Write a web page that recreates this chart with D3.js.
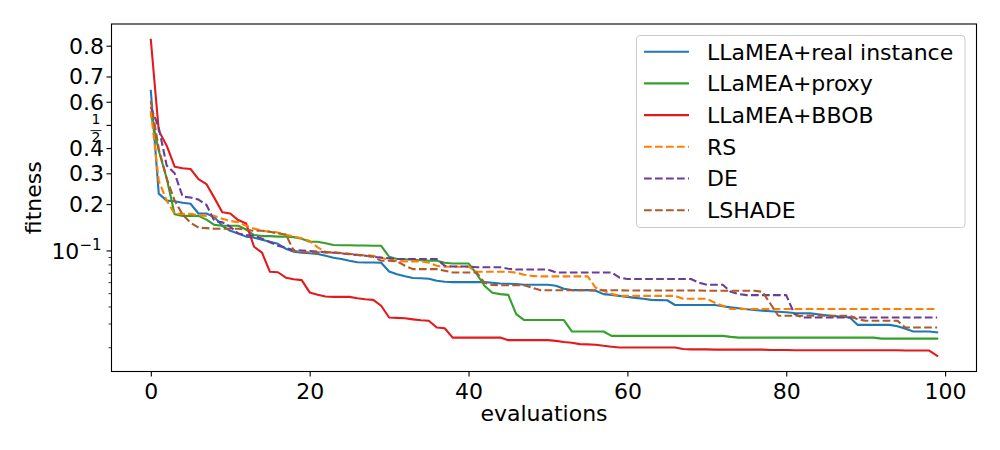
<!DOCTYPE html>
<html><head><meta charset="utf-8">
<script src="https://cdn.jsdelivr.net/npm/d3@7/dist/d3.min.js"></script>
<style>body{margin:0;background:#fff} svg{font-family:"DejaVu Sans",sans-serif}</style>
</head><body><svg id="c" width="1000" height="450"></svg>
<script>
const evaluations = d3.range(0, 100);
const seriesNames = ["LLaMEA+real instance","LLaMEA+proxy","LLaMEA+BBOB","RS","DE","LSHADE"];
const realInstance = [0.645,0.231,0.210,0.208,0.204,0.201,0.175,0.175,0.166,0.146,
 0.1355,0.130,0.124,0.122,0.118,0.1145,0.111,0.1027,0.098,0.0965,
 0.0957,0.0945,0.0919,0.0890,0.0872,0.0848,0.0829,0.0826,0.0826,0.0822,
 0.0714,0.0683,0.0661,0.0642,0.0640,0.0634,0.0613,0.0603,0.0600,0.0600,
 0.0600,0.0600,0.0600,0.0594,0.0587,0.0584,0.0581,0.0575,0.0575,0.0575,
 0.0575,0.0565,0.0538,0.0526,0.0526,0.0526,0.0520,0.0492,0.0486,0.0478,
 0.0470,0.0462,0.0455,0.0447,0.0445,0.0444,0.0410,0.0410,0.0410,0.0410,
 0.0410,0.0410,0.0402,0.0394,0.0388,0.0382,0.0377,0.0372,0.0369,0.0366,
 0.0363,0.0358,0.0357,0.0356,0.0351,0.0345,0.0340,0.0336,0.0332,0.0293,
 0.0293,0.0293,0.0293,0.0293,0.0286,0.0274,0.0262,0.0262,0.0262,0.0258];
const proxy = [0.549,0.389,0.281,0.173,0.169,0.169,0.169,0.160,0.148,0.146,
 0.146,0.146,0.138,0.127,0.125,0.125,0.124,0.124,0.123,0.120,
 0.1145,0.1145,0.112,0.109,0.1085,0.1085,0.108,0.108,0.1076,0.1076,
 0.0905,0.0872,0.0869,0.0862,0.0855,0.0848,0.0848,0.0822,0.0813,0.0813,
 0.0813,0.0688,0.0565,0.0503,0.0492,0.0486,0.0352,0.0318,0.0318,0.0318,
 0.0318,0.0318,0.0318,0.0262,0.0262,0.0262,0.0262,0.0262,0.0243,0.0243,
 0.0243,0.0243,0.0243,0.0243,0.0243,0.0243,0.0243,0.0243,0.0243,0.0243,
 0.0243,0.0243,0.0243,0.0239,0.0236,0.0236,0.0236,0.0236,0.0236,0.0236,
 0.0236,0.0236,0.0236,0.0236,0.0236,0.0236,0.0236,0.0236,0.0236,0.0236,
 0.0236,0.0236,0.0232,0.0232,0.0232,0.0232,0.0232,0.0232,0.0232,0.0232];
const bbob = [0.816,0.475,0.410,0.325,0.319,0.316,0.279,0.262,0.218,0.178,
 0.175,0.159,0.151,0.106,0.0965,0.0710,0.0705,0.0645,0.0629,0.0620,
 0.0506,0.0486,0.0473,0.0470,0.0470,0.0470,0.0459,0.0452,0.0447,0.0405,
 0.0332,0.0330,0.0328,0.0322,0.0317,0.0314,0.0280,0.0277,0.0236,0.0236,
 0.0236,0.0236,0.0236,0.0236,0.0236,0.0226,0.0226,0.0226,0.0226,0.0226,
 0.0226,0.0223,0.0219,0.0216,0.0211,0.0210,0.0209,0.0205,0.0202,0.0199,
 0.0199,0.0199,0.0199,0.0199,0.0199,0.0199,0.0199,0.0194,0.0193,0.0193,
 0.0193,0.0192,0.0192,0.0192,0.0192,0.0192,0.0192,0.0192,0.0191,0.0191,
 0.0191,0.0190,0.0190,0.0190,0.0190,0.0190,0.0190,0.0190,0.0190,0.0190,
 0.0190,0.0190,0.0190,0.0190,0.0190,0.0189,0.0189,0.0189,0.0189,0.0173];
const rs = [0.562,0.273,0.210,0.174,0.174,0.174,0.171,0.169,0.169,0.162,
 0.157,0.154,0.146,0.140,0.1355,0.1335,0.132,0.1275,0.124,0.121,
 0.116,0.105,0.098,0.0965,0.0957,0.0950,0.0934,0.0927,0.0919,0.0895,
 0.0857,0.0848,0.0841,0.0841,0.0841,0.0822,0.0783,0.0771,0.0771,0.0771,
 0.0771,0.0711,0.0711,0.0711,0.0711,0.0711,0.0700,0.0677,0.0665,0.0659,
 0.0659,0.0659,0.0659,0.0659,0.0659,0.0659,0.0547,0.0520,0.0494,0.0478,
 0.0478,0.0478,0.0478,0.0478,0.0478,0.0478,0.0478,0.0455,0.0455,0.0455,
 0.0455,0.0426,0.0405,0.0383,0.0383,0.0383,0.0383,0.0383,0.0383,0.0383,
 0.0383,0.0383,0.0383,0.0383,0.0383,0.0383,0.0383,0.0383,0.0383,0.0383,
 0.0383,0.0383,0.0383,0.0383,0.0383,0.0383,0.0383,0.0383,0.0383,0.0383];
const de = [0.578,0.488,0.329,0.300,0.222,0.219,0.213,0.198,0.157,0.154,
 0.144,0.130,0.127,0.1256,0.120,0.1137,0.1076,0.104,0.1005,0.0998,
 0.0990,0.0984,0.0972,0.0965,0.0954,0.0942,0.0930,0.0919,0.0905,0.0890,
 0.0883,0.0872,0.0872,0.0872,0.0872,0.0872,0.0872,0.0783,0.0774,0.0774,
 0.0774,0.0764,0.0764,0.0764,0.0764,0.0746,0.0737,0.0737,0.0737,0.0737,
 0.0737,0.0703,0.0703,0.0703,0.0703,0.0703,0.0703,0.0703,0.0703,0.0645,
 0.0631,0.0631,0.0631,0.0631,0.0631,0.0631,0.0631,0.0631,0.0631,0.0594,
 0.0575,0.0575,0.0575,0.0511,0.0492,0.0484,0.0484,0.0484,0.0484,0.0484,
 0.0484,0.0354,0.0332,0.0332,0.0332,0.0332,0.0332,0.0332,0.0332,0.0332,
 0.0332,0.0332,0.0332,0.0332,0.0332,0.0332,0.0332,0.0332,0.0332,0.0332];
const lshade = [0.604,0.397,0.281,0.210,0.172,0.153,0.142,0.141,0.1397,0.1397,
 0.1397,0.1397,0.1376,0.1355,0.1355,0.1335,0.130,0.128,0.0995,0.0972,
 0.0970,0.0970,0.0970,0.0970,0.0960,0.0945,0.0934,0.0919,0.0905,0.0848,
 0.0848,0.0841,0.0783,0.0742,0.0742,0.0742,0.0742,0.0722,0.0703,0.0703,
 0.0703,0.0703,0.0594,0.0572,0.0570,0.0570,0.0570,0.0570,0.0547,0.0526,
 0.0524,0.0524,0.0524,0.0524,0.0524,0.0524,0.0524,0.0524,0.0524,0.0524,
 0.0522,0.0522,0.0522,0.0522,0.0522,0.0522,0.0522,0.0522,0.0522,0.0522,
 0.0520,0.0520,0.0520,0.0520,0.0520,0.0520,0.0520,0.0511,0.0419,0.0342,
 0.0342,0.0342,0.0342,0.0342,0.0342,0.0342,0.0342,0.0342,0.0342,0.0322,
 0.0314,0.0314,0.0314,0.0314,0.0314,0.0280,0.0280,0.0280,0.0280,0.0280];
const xTicks = [0,20,40,60,80,100];
const yMajorTicks = [0.1,0.2,0.3,0.4,0.5,0.6,0.7,0.8];
const yTickLabels = ["10^-1","0.2","0.3","0.4","1/2","0.6","0.7","0.8"];
const yMinorTicks = [0.02,0.03,0.04,0.05,0.06,0.07,0.08,0.09];

const allSeries = [realInstance, proxy, bbob, rs, de, lshade];
const colors = ["#1f78b4","#33a02c","#e31a1c","#ff7f00","#6a3d9a","#b15928"];
const dashed = [false,false,false,true,true,true];

const L = 111.5, R = 976.5, T = 24, B = 371.5;
const FS = 22;
const logit = p => Math.log10(p / (1 - p));
const svg = d3.select("#c");

const xs = d3.scaleLinear().domain([-4.95, 103.95]).range([L, R]);
const allVals = allSeries.flat().map(logit);
const lo = d3.min(allVals), hi = d3.max(allVals), pad = (hi - lo) * 0.05;
const ys = d3.scaleLinear().domain([lo - pad, hi + pad]).range([B, T]);
const yp = p => ys(logit(p));

// lines
const g = svg.append("g");
g.append("clipPath").attr("id","clip").append("rect").attr("x",L).attr("y",T).attr("width",R-L).attr("height",B-T);
const line = d3.line().x((d,i) => xs(evaluations[i])).y(d => yp(d));
allSeries.forEach((s, k) => {
  g.append("path").datum(s).attr("d", line).attr("clip-path","url(#clip)")
    .attr("fill","none").attr("stroke", colors[k]).attr("stroke-width", 2.1)
    .attr("stroke-linejoin","round").attr("stroke-linecap", dashed[k] ? "butt" : "square")
    .attr("stroke-dasharray", dashed[k] ? "7.7,3.3" : null);
});

// x axis
const xAxis = svg.append("g").attr("transform", `translate(0,${B})`)
  .call(d3.axisBottom(xs).tickValues(xTicks).tickSize(5).tickPadding(7).tickFormat(d3.format("d")));
xAxis.select(".domain").remove();
xAxis.selectAll("line").attr("stroke","#000").attr("stroke-width",1.1);
xAxis.selectAll("text").attr("font-size",FS).attr("font-family","DejaVu Sans").attr("fill","#000");

// y axis ticks
const yAxis = svg.append("g").attr("transform", `translate(${L},0)`)
  .call(d3.axisLeft(ys).tickValues(yMajorTicks.map(logit)).tickSize(5).tickFormat(""));
yAxis.select(".domain").remove();
yAxis.selectAll("line").attr("stroke","#000").attr("stroke-width",1.1);
const yMinorAxis = svg.append("g").attr("transform", `translate(${L},0)`)
  .call(d3.axisLeft(ys).tickValues(yMinorTicks.map(logit)).tickSize(3).tickFormat(""));
yMinorAxis.select(".domain").remove();
yMinorAxis.selectAll("line").attr("stroke","#000").attr("stroke-width",0.8);

// y tick labels
yMajorTicks.forEach((v, i) => {
  const lab = yTickLabels[i], yy = yp(v);
  if (lab === "1/2") {
    svg.append("text").attr("x",96).attr("y",yy-0.5).attr("text-anchor","middle").attr("font-size",14).text("1");
    svg.append("line").attr("x1",90.5).attr("x2",101.5).attr("y1",yy+5.7).attr("y2",yy+5.7).attr("stroke","#000").attr("stroke-width",0.9);
    svg.append("text").attr("x",96).attr("y",yy+17.5).attr("text-anchor","middle").attr("font-size",14).text("2");
  } else if (lab.indexOf("^") >= 0) {
    const parts = lab.split("^");
    const t = svg.append("text").attr("x",101.5).attr("y",yy+9).attr("text-anchor","end").attr("font-size",FS);
    t.append("tspan").text(parts[0]);
    t.append("tspan").attr("font-size",15).attr("dy",-9).text(parts[1].replace("-","\u2212"));
  } else {
    svg.append("text").attr("x",104).attr("y",yy).attr("dy","0.36em").attr("text-anchor","end").attr("font-size",FS).text(lab);
  }
});

// frame
svg.append("rect").attr("x",L).attr("y",T).attr("width",R-L).attr("height",B-T)
  .attr("fill","none").attr("stroke","#000").attr("stroke-width",1.1);

// axis labels
svg.append("text").attr("x",(L+R)/2).attr("y",421).attr("text-anchor","middle").attr("font-size",FS).text("evaluations");
svg.append("text").attr("transform",`translate(41,${(T+B)/2}) rotate(-90)`).attr("text-anchor","middle").attr("font-size",FS).text("fitness");

// legend
const lg = svg.append("g");
lg.append("rect").attr("x",636.5).attr("y",35.5).attr("width",328.5).attr("height",192).attr("rx",3.5)
  .attr("fill","#fff").attr("fill-opacity",0.8).attr("stroke","#cccccc").attr("stroke-width",1);
seriesNames.forEach((n, k) => {
  const yy = 51.7 + k * 31.7;
  lg.append("line").attr("x1",644).attr("x2",689).attr("y1",yy).attr("y2",yy)
    .attr("stroke",colors[k]).attr("stroke-width",2.1).attr("stroke-dasharray", dashed[k] ? "7.7,3.3" : null);
  lg.append("text").attr("x",707).attr("y",yy).attr("dy","0.36em").attr("font-size",FS).text(n);
});
</script></body></html>
